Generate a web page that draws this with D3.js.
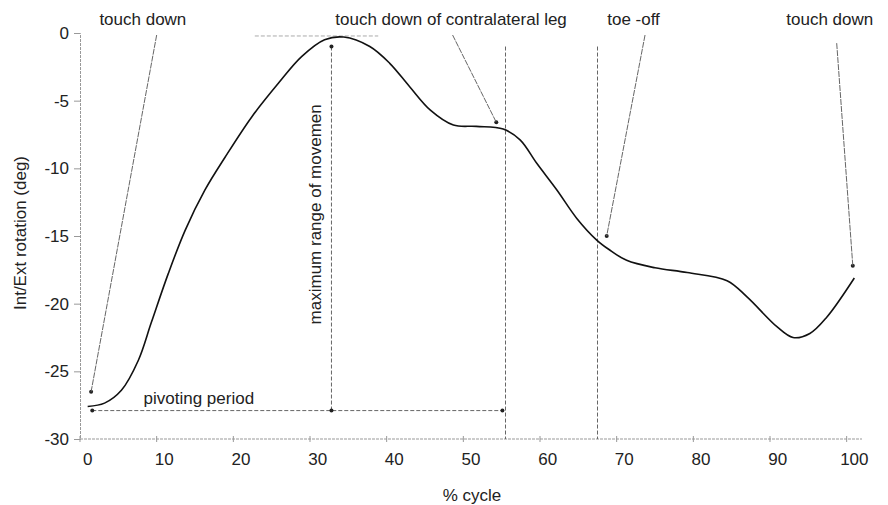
<!DOCTYPE html>
<html>
<head>
<meta charset="utf-8">
<script src="https://cdn.jsdelivr.net/npm/d3@7"></script>
<style>
  body { margin: 0; background: #fff; }
  svg text { font-family: "Liberation Sans", Arial, sans-serif; fill: #222; }
</style>
</head>
<body>
<svg id="chart" width="888" height="505"></svg>
<script>
// gait cycle data
var cycle = [0, 2.2, 4.4, 6.6, 8.3, 10.5, 12.7, 15.3, 17.9, 21.4, 24.9, 27.9, 30.9, 33.4, 36.8, 39.4, 42, 44.7, 47.7, 50.7, 54.2, 56.4, 58.6, 61.2, 63.8, 66.4, 68, 70.3, 74, 78.2, 83.4, 86, 89.9, 92, 94.2, 96.4, 100];
var rotation = [-27.6, -27.35, -26.4, -24.2, -21.4, -17.8, -14.6, -11.6, -9.2, -6.2, -3.7, -1.75, -0.5, -0.3, -1.0, -2.24, -3.97, -5.7, -6.8, -6.9, -7.1, -7.9, -9.65, -11.6, -13.7, -15.3, -16.0, -16.8, -17.35, -17.7, -18.3, -19.5, -21.7, -22.5, -22.2, -21.0, -18.1];

var xTicks = [0, 10, 20, 30, 40, 50, 60, 70, 80, 90, 100];
var yTicks = [0, -5, -10, -15, -20, -25, -30];

// event lines (% cycle)
var eventLines = [54.5, 66.5];

// annotation labels with arrow start / end in data units
var annLabels = ["touch down", "touch down of contralateral leg", "toe -off", "touch down"];
var annTextX = [7.2, 47.4, 71.2, 96.8];
var annTextY = [0.6, 0.6, 0.6, 0.6];
var annFrom = [[9.0, -0.15], [47.6, -0.15], [72.7, -0.15], [97.7, -0.75]];
var annTo = [[0.45, -26.5], [53.3, -6.6], [67.7, -15.0], [99.8, -17.2]];

var peakX = 31.8, peakY = -0.22, peakDashFrom = 21.8, peakDashTo = 37.9;
var pivotY = -27.9, pivotFrom = 0.6, pivotTo = 54.1;

var svg = d3.select('#chart');

var x = d3.scaleLinear().domain([-1, 101]).range([80, 862]);
var y = d3.scaleLinear().domain([-30, 0]).range([439, 33]);

var axisColor = '#999';

// y axis
var yAxis = svg.append('g')
  .attr('transform', 'translate(' + x(-1) + ',0)')
  .call(d3.axisLeft(y).tickValues(yTicks).tickSize(6).tickPadding(5)
    .tickFormat(function(d) { return String(d); }));
yAxis.select('.domain').attr('stroke', axisColor).attr('stroke-dasharray', '3,1');
yAxis.selectAll('.tick line').attr('stroke', axisColor);
yAxis.selectAll('text').style('font-size', '17px').attr('fill', '#222');

// x axis: labels sit on the category, tick marks one step left
svg.append('line')
  .attr('x1', x(-1)).attr('x2', x(101))
  .attr('y1', y(-30)).attr('y2', y(-30))
  .attr('stroke', axisColor).attr('stroke-dasharray', '3,1');

svg.append('g').selectAll('line')
  .data(xTicks)
  .enter()
  .append('line')
  .attr('x1', function(d) { return x(d - 1); })
  .attr('x2', function(d) { return x(d - 1); })
  .attr('y1', y(-30) - 3)
  .attr('y2', y(-30) + 3)
  .attr('stroke', axisColor);

svg.append('g').selectAll('text')
  .data(xTicks)
  .enter()
  .append('text')
  .attr('x', function(d) { return x(d); })
  .attr('y', y(-30) + 26)
  .attr('text-anchor', 'middle')
  .style('font-size', '17px')
  .text(function(d) { return d; });

// axis titles
svg.append('text')
  .attr('x', 472)
  .attr('y', 501)
  .attr('text-anchor', 'middle')
  .style('font-size', '17px')
  .text('% cycle');

svg.append('text')
  .attr('transform', 'translate(26,233)rotate(-90)')
  .attr('text-anchor', 'middle')
  .style('font-size', '17px')
  .text('Int/Ext rotation (deg)');

var dash = '4,2';
var annColor = '#666';

// event vertical lines
svg.append('g').selectAll('line')
  .data(eventLines)
  .enter()
  .append('line')
  .attr('x1', function(d) { return x(d); })
  .attr('x2', function(d) { return x(d); })
  .attr('y1', y(-1.0))
  .attr('y2', y(-30))
  .attr('stroke', annColor)
  .attr('stroke-dasharray', dash);

// peak level dash
svg.append('line')
  .attr('x1', x(peakDashFrom)).attr('x2', x(peakDashTo))
  .attr('y1', y(peakY)).attr('y2', y(peakY))
  .attr('stroke', '#aaa')
  .attr('stroke-dasharray', dash);

// maximum range of movement
svg.append('line')
  .attr('x1', x(peakX)).attr('x2', x(peakX))
  .attr('y1', y(-1.0)).attr('y2', y(pivotY))
  .attr('stroke', annColor)
  .attr('stroke-dasharray', dash);

svg.append('text')
  .attr('transform', 'translate(' + (x(peakX) - 10) + ',' + y(-13.4) + ')rotate(-90)')
  .attr('text-anchor', 'middle')
  .style('font-size', '17px')
  .text('maximum range of movemen');

// pivoting period
svg.append('line')
  .attr('x1', x(pivotFrom)).attr('x2', x(pivotTo))
  .attr('y1', y(pivotY)).attr('y2', y(pivotY))
  .attr('stroke', annColor)
  .attr('stroke-dasharray', dash);

svg.append('text')
  .attr('x', x(14.5))
  .attr('y', y(pivotY) - 7)
  .attr('text-anchor', 'middle')
  .style('font-size', '17px')
  .text('pivoting period');

// arrow heads as small dots
var dots = [[peakX, -1.0], [peakX, pivotY], [pivotFrom, pivotY], [pivotTo, pivotY]].concat(annTo);
svg.append('g').selectAll('circle')
  .data(dots)
  .enter()
  .append('circle')
  .attr('cx', function(d) { return x(d[0]); })
  .attr('cy', function(d) { return y(d[1]); })
  .attr('r', 2)
  .attr('fill', '#222');

// annotation arrows + labels
svg.append('g').selectAll('line')
  .data(annLabels)
  .enter()
  .append('line')
  .attr('x1', function(d, i) { return x(annFrom[i][0]); })
  .attr('y1', function(d, i) { return y(annFrom[i][1]); })
  .attr('x2', function(d, i) { return x(annTo[i][0]); })
  .attr('y2', function(d, i) { return y(annTo[i][1]); })
  .attr('stroke', annColor)
  .attr('stroke-dasharray', '6,1');

svg.append('g').selectAll('text')
  .data(annLabels)
  .enter()
  .append('text')
  .attr('x', function(d, i) { return x(annTextX[i]); })
  .attr('y', function(d, i) { return y(annTextY[i]); })
  .attr('text-anchor', 'middle')
  .style('font-size', '17px')
  .text(function(d) { return d; });

// main curve
var pts = cycle.map(function(c, i) { return [c, rotation[i]]; });
var line = d3.line()
  .x(function(d) { return x(d[0]); })
  .y(function(d) { return y(d[1]); })
  .curve(d3.curveCatmullRom.alpha(0.5));

svg.append('path')
  .datum(pts)
  .attr('d', line)
  .attr('fill', 'none')
  .attr('stroke', '#111')
  .attr('stroke-width', 1.6);
</script>
</body>
</html>
